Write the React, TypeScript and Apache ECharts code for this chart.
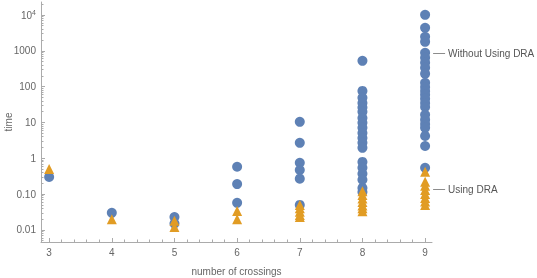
import React, { useEffect, useRef } from "react";
import * as echarts from "echarts";

const crossings = [3, 4, 5, 6, 7, 8, 9];

// time (log scale) for each crossing number, one inner list per crossing number
const timeWithoutDRA: number[][] = [
  [0.3],
  [0.03],
  [0.023, 0.015],
  [0.58, 0.19, 0.057],
  [10.4, 2.7, 0.75, 0.47, 0.27, 0.05],
  [525, 76, 49, 35, 26, 20, 13.4, 9.8, 7.1, 5.1, 3.7, 2.7, 1.95, 0.79, 0.54, 0.37, 0.25, 0.149, 0.115],
  [10100, 4400, 2470, 1780, 880, 635, 460, 335, 228, 128, 98, 76, 59, 46, 35, 27, 16.3, 11.8, 9.1, 7.1, 4.2, 2.2, 0.54],
];
const timeUsingDRA: number[][] = [
  [0.5],
  [0.02],
  [0.018, 0.012],
  [0.034, 0.02],
  [0.05, 0.04, 0.032, 0.026, 0.023],
  [0.12, 0.095, 0.075, 0.06, 0.048, 0.04, 0.033],
  [0.42, 0.22, 0.17, 0.131, 0.101, 0.078, 0.062, 0.05],
];

const yTickValues = [0.01, 0.1, 1, 10, 100, 1000, 10000];
const xMinorTickValues = [3.2, 3.4, 3.6, 3.8, 4.2, 4.4, 4.6, 4.8, 5.2, 5.4, 5.6, 5.8, 6.2, 6.4, 6.6, 6.8, 7.2, 7.4, 7.6, 7.8, 8.2, 8.4, 8.6, 8.8];

const seriesNames = ["Without Using DRA", "Using DRA"];
const calloutValues = [880, 0.14]; // time level where each callout sits, at 9 crossings

const X_MIN = 2.87;
const X_MAX = 9.11;
const Y_MIN = 0.0046;
const Y_MAX = 23000;

const BLUE = "#5E81B5";
const ORANGE = "#E19C24";
const AXIS = "#ababab";
const LABEL = "#666666";
const FONT = "'Liberation Sans', Arial, sans-serif";

function yMinorTicks(): number[] {
  const out: number[] = [];
  for (let k = -3; k <= 4; k++) {
    for (let m = 2; m <= 9; m++) {
      const v = Number((m * Math.pow(10, k)).toPrecision(3));
      if (v >= Y_MIN && v <= Y_MAX) out.push(v);
    }
  }
  return out;
}

function toPairs(values: number[][]): number[][] {
  const res: number[][] = [];
  crossings.forEach((c, i) => values[i].forEach((v) => res.push([c, v])));
  return res;
}

export default function App() {
  const ref = useRef<HTMLDivElement>(null);
  useEffect(() => {
    const chart = echarts.init(ref.current!, null, { renderer: "svg" });
    chart.setOption({
      animation: false,
      textStyle: { fontFamily: FONT },
      grid: { left: 41, right: 105, top: 2, bottom: 36, containLabel: false, outerBoundsMode: "none" },
      xAxis: [
        {
          type: "value",
          min: X_MIN,
          max: X_MAX,
          position: "bottom",
          name: "number of crossings",
          nameLocation: "middle",
          nameGap: 24,
          nameMoveOverlap: false,
          nameTextStyle: { color: LABEL, fontSize: 10, fontFamily: FONT },
          axisLine: { show: true, onZero: false, lineStyle: { color: AXIS, width: 1 } },
          axisTick: { show: true, inside: true, length: 4, customValues: crossings, lineStyle: { color: AXIS } },
          axisLabel: { customValues: crossings, color: LABEL, fontSize: 10, margin: 5, fontFamily: FONT },
          splitLine: { show: false },
        },
        {
          type: "value",
          min: X_MIN,
          max: X_MAX,
          position: "bottom",
          axisLine: { show: false, onZero: false },
          axisTick: { show: true, inside: true, length: 2.5, customValues: xMinorTickValues, lineStyle: { color: AXIS } },
          axisLabel: { show: false },
          splitLine: { show: false },
        },
      ],
      yAxis: [
        {
          type: "log",
          logBase: 10,
          min: Y_MIN,
          max: Y_MAX,
          position: "left",
          name: "time",
          nameLocation: "middle",
          nameGap: 28,
          nameMoveOverlap: false,
          nameTextStyle: { color: LABEL, fontSize: 10, fontFamily: FONT },
          axisLine: { show: true, onZero: false, lineStyle: { color: AXIS, width: 1 } },
          axisTick: { show: true, inside: true, length: 4, customValues: yTickValues, lineStyle: { color: AXIS } },
          axisLabel: {
            customValues: yTickValues,
            color: LABEL,
            fontSize: 10,
            margin: 5,
            fontFamily: FONT,
            formatter: (v: number) => {
              if (v >= 9999) return "{n|10}{s|4}";
              if (Math.abs(v - 0.1) < 1e-9) return "0.10";
              if (Math.abs(v - 0.01) < 1e-9) return "0.01";
              return String(Math.round(v));
            },
            rich: {
              n: { fontSize: 10, color: LABEL, fontFamily: FONT, lineHeight: 12, verticalAlign: "bottom" },
              s: { fontSize: 7, color: LABEL, fontFamily: FONT, verticalAlign: "top" },
            },
          },
          splitLine: { show: false },
        },
        {
          type: "log",
          logBase: 10,
          min: Y_MIN,
          max: Y_MAX,
          position: "left",
          axisLine: { show: false, onZero: false },
          axisTick: { show: true, inside: true, length: 2.5, customValues: yMinorTicks(), lineStyle: { color: AXIS } },
          axisLabel: { show: false },
          splitLine: { show: false },
        },
      ],
      series: [
        {
          name: seriesNames[0],
          type: "scatter",
          xAxisIndex: 0,
          yAxisIndex: 0,
          symbol: "circle",
          symbolSize: 10,
          itemStyle: { color: BLUE, opacity: 1 },
          data: toPairs(timeWithoutDRA),
        },
        {
          name: seriesNames[1],
          type: "scatter",
          xAxisIndex: 0,
          yAxisIndex: 0,
          symbol: "triangle",
          symbolSize: 10,
          itemStyle: { color: ORANGE, opacity: 1 },
          data: toPairs(timeUsingDRA),
        },
      ],
    });

    const lastX = crossings[crossings.length - 1];
    const graphics: any[] = [];
    seriesNames.forEach((name, i) => {
      const p = chart.convertToPixel({ xAxisIndex: 0, yAxisIndex: 0 }, [lastX, calloutValues[i]]) as number[];
      if (!p) return;
      const y = Math.round(p[1]) + 0.5;
      graphics.push({
        type: "line",
        shape: { x1: p[0] + 8, y1: y, x2: p[0] + 20, y2: y },
        style: { stroke: "#8c8c8c", lineWidth: 1 },
        silent: true,
      });
      graphics.push({
        type: "text",
        x: p[0] + 23,
        y: y,
        style: { text: name, fill: "#555555", fontSize: 10, fontFamily: FONT, verticalAlign: "middle", align: "left" },
        silent: true,
      });
    });
    chart.setOption({ graphic: graphics });

    return () => chart.dispose();
  }, []);
  return <div ref={ref} style={{ position: "fixed", left: 0, top: 0, width: 537, height: 278 }} />;
}
